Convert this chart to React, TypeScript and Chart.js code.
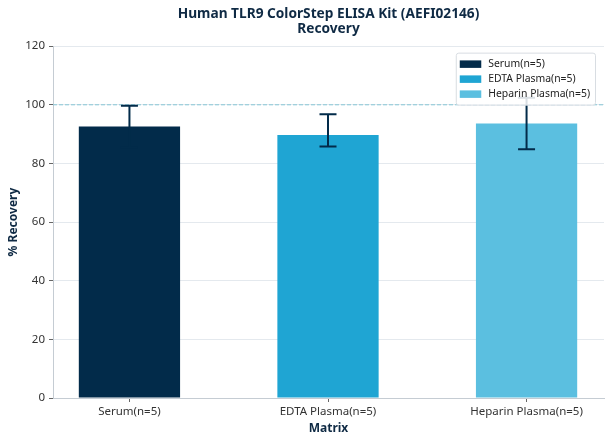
import React, { useEffect, useRef } from "react";
import { Chart, registerables } from "chart.js";

Chart.register(...registerables);

const categories = ["Serum(n=5)", "EDTA Plasma(n=5)", "Heparin Plasma(n=5)"];
const recovery = [92.6, 89.7, 93.6];
const errLow = [85.5, 85.8, 84.8];
const errHigh = [99.7, 96.8, 102.4];
const colors = ["#022b4a", "#1fa5d3", "#5bbfe0"];
const yTicks = [0, 20, 40, 60, 80, 100, 120];
const referenceLine = 100;
const titleLines = ["Human TLR9 ColorStep ELISA Kit (AEFI02146)", "Recovery"];

const FONT = "'Noto Sans', 'DejaVu Sans', sans-serif";
const NAVY = "#0f2a44";
const ERR = "#022b4a";

const refLinePlugin = {
  id: "refLine",
  beforeDatasetsDraw(chart: any) {
    const { ctx, chartArea, scales } = chart;
    const y = scales.y.getPixelForValue(referenceLine);
    ctx.save();
    ctx.strokeStyle = "#86c6d6";
    ctx.lineWidth = 1;
    ctx.setLineDash([4, 2]);
    ctx.beginPath();
    ctx.moveTo(chartArea.left, y);
    ctx.lineTo(chartArea.right, y);
    ctx.stroke();
    ctx.restore();
  },
};

const errorBarPlugin = {
  id: "errorBars",
  afterDatasetsDraw(chart: any) {
    const { ctx, scales } = chart;
    ctx.save();
    ctx.strokeStyle = ERR;
    ctx.lineWidth = 2;
    const cap = 8.5;
    categories.forEach((_, i) => {
      const x = scales.x.getPixelForValue(i);
      const yl = scales.y.getPixelForValue(errLow[i]);
      const yh = scales.y.getPixelForValue(errHigh[i]);
      ctx.beginPath();
      ctx.moveTo(x, yl);
      ctx.lineTo(x, yh);
      ctx.moveTo(x - cap, yl);
      ctx.lineTo(x + cap, yl);
      ctx.moveTo(x - cap, yh);
      ctx.lineTo(x + cap, yh);
      ctx.stroke();
    });
    ctx.restore();
  },
};

const innerLegendPlugin = {
  id: "innerLegend",
  afterDraw(chart: any) {
    const { ctx, chartArea } = chart;
    const fontSize = 10.4;
    ctx.save();
    ctx.font = `${fontSize}px ${FONT}`;
    const textW = Math.max(...categories.map((c) => ctx.measureText(c).width));
    const swW = 21.5;
    const swH = 7.5;
    const padX = 4;
    const gap = 7;
    const rowH = 15;
    const padY = 3.5;
    const boxW = padX + swW + gap + textW + padX + 1;
    const boxH = padY * 2 + rowH * categories.length;
    const right = chartArea.right - 9;
    const left = right - boxW;
    const top = chartArea.top + 6.5;
    ctx.fillStyle = "rgba(255,255,255,0.85)";
    ctx.strokeStyle = "#d8dde2";
    ctx.lineWidth = 1;
    ctx.beginPath();
    (ctx as any).roundRect(left + 0.5, top + 0.5, boxW, boxH, 2.5);
    ctx.fill();
    ctx.stroke();
    ctx.textBaseline = "middle";
    ctx.textAlign = "left";
    categories.forEach((c, i) => {
      const cy = top + padY + rowH * i + rowH / 2 + 0.5;
      ctx.fillStyle = colors[i];
      ctx.fillRect(left + padX, cy - swH / 2, swW, swH);
      ctx.fillStyle = "#222";
      ctx.fillText(c, left + padX + swW + gap, cy);
    });
    ctx.restore();
  },
};

export default function App() {
  const canvasRef = useRef<HTMLCanvasElement | null>(null);

  useEffect(() => {
    if (!canvasRef.current) return;
    const chart = new Chart(canvasRef.current, {
      type: "bar",
      data: {
        datasets: [
          {
            label: "Recovery",
            data: categories.map((_, i) => ({ x: i, y: recovery[i] })),
            backgroundColor: colors,
            borderWidth: 0,
            categoryPercentage: 1,
            barPercentage: 0.51,
          },
        ],
      },
      options: {
        animation: false,
        responsive: true,
        maintainAspectRatio: false,
        layout: { padding: { left: 0, right: 4, top: 0, bottom: 0 } },
        plugins: {
          legend: { display: false },
          tooltip: { enabled: false },
          title: {
            display: true,
            text: titleLines,
            fullSize: false,
            color: NAVY,
            font: { family: FONT, size: 13.7, weight: "bold", lineHeight: 1.1 },
            padding: { top: 6.5, bottom: 9.5 },
          },
        },
        scales: {
          x: {
            type: "linear",
            offset: false,
            min: -0.385,
            max: 2.39,
            afterBuildTicks: (scale: any) => {
              scale.ticks = categories.map((_, i) => ({ value: i }));
            },
            afterFit: (scale: any) => {
              scale.height = 46;
            },
            ticks: {
              autoSkip: false,
              maxRotation: 0,
              color: "#333",
              padding: 3,
              font: { family: FONT, size: 11.5 },
              callback: (v: any) => categories[v] ?? "",
            },
            grid: {
              offset: false,
              drawOnChartArea: false,
              drawTicks: true,
              tickLength: 4,
              tickColor: "#666",
            },
            border: { display: true, color: "#c5ccd3", width: 1 },
            title: {
              display: true,
              text: "Matrix",
              color: NAVY,
              font: { family: FONT, size: 12, weight: "bold" },
              padding: { top: 8, bottom: 8 },
            },
          },
          y: {
            min: 0,
            max: 120,
            afterBuildTicks: (scale: any) => {
              scale.ticks = yTicks.map((v) => ({ value: v }));
            },
            afterFit: (scale: any) => {
              scale.width = 53;
            },
            ticks: {
              color: "#333",
              padding: 4,
              font: { family: FONT, size: 11.5 },
            },
            grid: {
              color: "#e4e9ee",
              lineWidth: 1,
              drawTicks: true,
              tickLength: 4,
              tickColor: "#666",
            },
            border: { display: true, color: "#c5ccd3", width: 1 },
            title: {
              display: true,
              text: "% Recovery",
              color: NAVY,
              font: { family: FONT, size: 12, weight: "bold" },
              padding: { top: 6, bottom: 6 },
            },
          },
        },
      } as any,
      plugins: [refLinePlugin, errorBarPlugin, innerLegendPlugin],
    });
    return () => chart.destroy();
  }, []);

  return (
    <div style={{ position: "fixed", left: 0, top: 0, width: 608, height: 444, background: "#fff" }}>
      <canvas ref={canvasRef} />
    </div>
  );
}
